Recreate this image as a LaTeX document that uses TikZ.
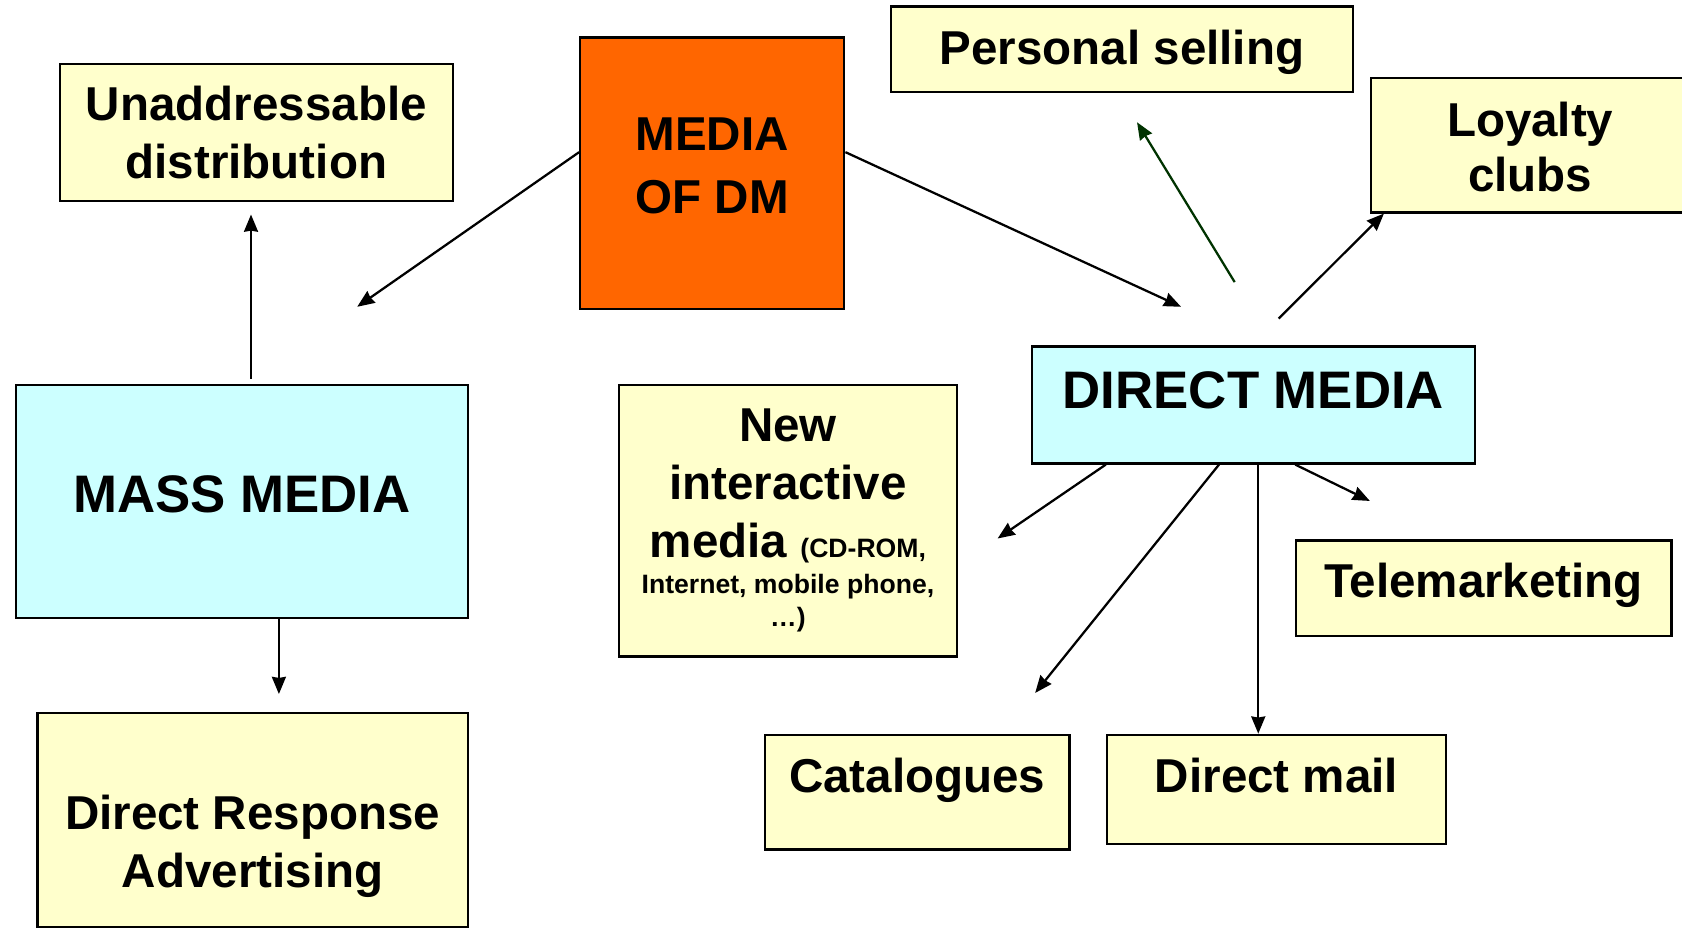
\documentclass[tikz,border=0pt]{standalone}
\usepackage{fontspec}
\setmainfont{Liberation Sans}
\usetikzlibrary{arrows.meta}

\definecolor{dmorange}{RGB}{255,102,0}
\definecolor{dmcyan}{RGB}{204,255,255}
\definecolor{dmyellow}{RGB}{255,255,204}
\definecolor{dmgreen}{RGB}{0,51,0}

\newcommand{\boxfont}{\fontsize{12.6}{15.4}\selectfont\bfseries}
\newcommand{\bigboxfont}{\fontsize{14}{16.8}\selectfont\bfseries}
\newcommand{\notefont}{\fontsize{7.05}{8.8}\selectfont\bfseries}

\tikzstyle{medium} = [rectangle, draw=black, line width=0.6pt, inner sep=0pt, align=center, text height=0.33cm, font=\boxfont, fill=dmyellow]
\tikzstyle{channel} = [medium, fill=dmcyan, font=\bigboxfont, text height=0.37cm]
\tikzstyle{root} = [medium, fill=dmorange]
\tikzstyle{arrow} = [line width=0.6pt,->,>={Stealth[length=0.16cm,width=0.13cm,inset=0.01cm]}]

\begin{document}
\begin{tikzpicture}[x=0.01cm,y=-0.01cm]
        \useasboundingbox (0,0) rectangle (1568,867);
        \node (unaddr) [medium, minimum width=3.66cm, minimum height=1.27cm, text height=0.854cm, text depth=0cm] at (239,123.5) {Unaddressable\\distribution};
        \node (media) [root, minimum width=2.46cm, minimum height=2.53cm, text height=0.75cm, text depth=0cm, font=\fontsize{12.6}{16.6}\selectfont\bfseries] at (664,161.5) {MEDIA\\OF DM};
        \node (selling) [medium, minimum width=4.3cm, minimum height=0.8cm, text depth=0.04cm] at (1046,46) {Personal selling};
        \node (loyalty) [medium, minimum width=2.97cm, minimum height=1.25cm, text height=0.864cm, text depth=0cm, font=\fontsize{12.6}{14.6}\selectfont\bfseries] at (1426.5,135.5) {Loyalty\\clubs};
        \node (mass) [channel, minimum width=4.21cm, minimum height=2.17cm, text depth=0.16cm] at (225.5,467.5) {MASS MEDIA};
        \node (direct) [channel, minimum width=4.13cm, minimum height=1.09cm, text depth=0.31cm] at (1168.5,377.5) {DIRECT MEDIA};
        \node (interactive) [medium, minimum width=3.15cm, minimum height=2.53cm, text height=1.97cm, text depth=0cm] at (734.5,485.5) {New\\interactive\\media {\notefont (CD-ROM,}\\[-0.21cm]{\notefont Internet, mobile phone,}\\[-0.23cm]{\notefont …)}};
        \node (tele) [medium, minimum width=3.5cm, minimum height=0.89cm, text depth=0.16cm] at (1383,548.5) {Telemarketing};
        \node (catalogues) [medium, minimum width=2.84cm, minimum height=1.07cm, text depth=0.32cm] at (855,738.5) {Catalogues};
        \node (mail) [medium, minimum width=3.16cm, minimum height=1.02cm, text depth=0.27cm] at (1190,736) {Direct mail};
        \node (dra) [medium, minimum width=4.01cm, minimum height=1.99cm, text height=1.25cm, text depth=0cm] at (235.5,764.5) {Direct Response\\Advertising};

        \coordinate (masshead) at (333,286);
        \coordinate (directhead) at (1101,286);
        \coordinate (sellingtail) at (1151,263);
        \coordinate (sellinghead) at (1060,114);
        \coordinate (loyaltytail) at (1192,297);
        \coordinate (unaddrtail) at (234,353);
        \coordinate (unaddrhead) at (234,200);
        \coordinate (drahead) at (260,647);
        \coordinate (interactivehead) at (930,502);
        \coordinate (catalogueshead) at (965,646);
        \coordinate (telehead) at (1277,467);

        \draw [arrow] (media.171) -- (masshead);
        \draw [arrow] (media.9) -- (directhead);
        \draw [arrow, dmgreen] (sellingtail) -- (sellinghead);
        \draw [arrow] (loyaltytail) -- (loyalty.205);
        \draw [arrow] (unaddrtail) -- (unaddrhead);
        \draw [arrow] (mass.south -| drahead) -- (drahead);
        \draw [arrow] (direct.202) -- (interactivehead);
        \draw [arrow] (direct.240) -- (catalogueshead);
        \draw [arrow] ([xshift=-0.17cm]mail.north |- direct.south) -- ([xshift=-0.17cm]mail.north);
        \draw [arrow] (direct.305) -- (telehead);
    \end{tikzpicture}
\end{document}
